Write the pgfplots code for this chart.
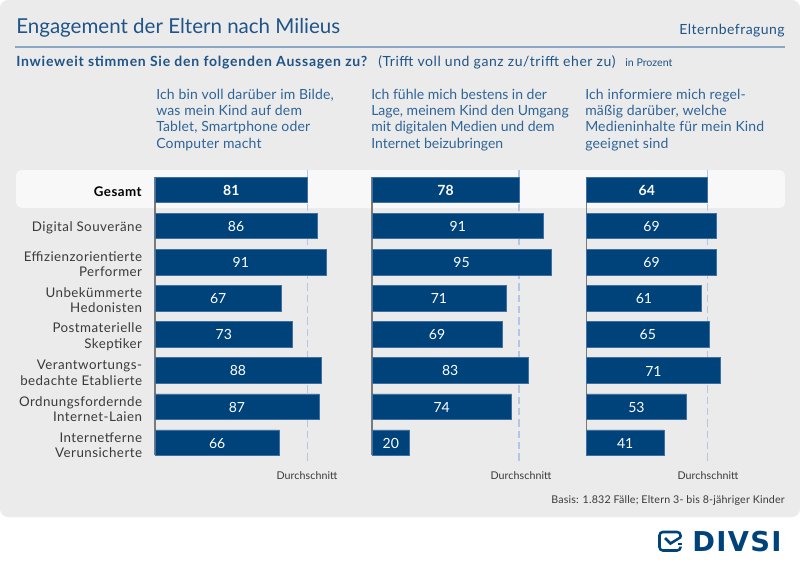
\documentclass[border=0pt]{standalone}
\usepackage{fontspec}
\setmainfont{Lato}
\newfontfamily\logofont{DejaVu Sans}
\usepackage{pgfplots}
\usepackage{pgfplotstable}
\pgfplotsset{compat=1.18}
\definecolor{panel}{HTML}{EBEBEB}
\definecolor{band}{HTML}{F8F8F8}
\definecolor{navy}{HTML}{00427A}
\definecolor{navyedge}{HTML}{3F70A3}
\definecolor{head}{HTML}{1F5488}
\definecolor{headlight}{HTML}{2F6498}
\definecolor{rule}{HTML}{89A6C4}
\definecolor{avg}{HTML}{B4C6E6}
\definecolor{base}{HTML}{7A7A7A}
\definecolor{txt}{HTML}{3A3A3A}

\pgfplotstableread{
y a b c
0 81 78 64
1 86 91 69
2 91 95 69
3 67 71 61
4 73 69 65
5 88 83 71
6 87 74 53
7 66 20 41
}\engagement

\pgfplotsset{panelaxis/.style={
  scale only axis, width=141.375pt, height=219.75pt,
  xmin=0, xmax=100, ymin=-0.5465, ymax=7.561, y dir=reverse,
  axis line style={draw=none}, major tick length=0pt, xtick=\empty, ytick=\empty,
  clip=false, anchor=north west,
},
vals/.style={only marks, mark=none, nodes near coords, point meta=explicit symbolic,
  nodes near coords style={anchor=center, inner sep=0pt, yshift=-0.4pt, white, font=\fontsize{10.5}{12}\selectfont #1}}}
% one panel: average line, baseline, bars, centred values
\newcommand{\panelplots}[2]{
  \addplot[avg, line width=0.9pt, dash pattern=on 5.5pt off 3pt] coordinates {(#2,-0.5465) (#2,7.561)};
  \addplot[base, line width=1pt] coordinates {(0,-0.353) (0,7.353)};
  \addplot[xbar, bar shift=0pt, bar width=19.1pt, fill=navy, draw=navyedge, line width=0.35pt]
    table[x=#1, y=y] {\engagement};
  \addplot[vals=\bfseries, skip coords between index={1}{8}]
    table[x expr=\thisrow{#1}/2, y=y, meta=#1] {\engagement};
  \addplot[vals=, skip coords between index={0}{1}]
    table[x expr=\thisrow{#1}/2, y=y, meta=#1] {\engagement};
}

\begin{document}
\begin{tikzpicture}[x=0.75pt, y=-0.75pt]
\useasboundingbox (0,0) rectangle (800,567);
\fill[panel, rounded corners=6pt] (0,0) rectangle (800,517);
\fill[band, rounded corners=4pt] (16,170) rectangle (785,208);
\draw[rule, line width=1.1pt] (15,47) -- (785,47);

\node[anchor=base west, inner sep=0pt, text=head, font=\fontsize{15.4}{18}\selectfont] at (16,34) {Engagement der Eltern nach Milieus};
\node[anchor=base east, inner sep=0pt, text=head, font=\fontsize{10.5}{12}\selectfont\addfontfeature{LetterSpace=3.3}] at (785,35) {Elternbefragung};
\node[anchor=base west, inner sep=0pt, text=head, font=\fontsize{10.5}{12}\selectfont\bfseries\addfontfeature{LetterSpace=5.5}] at (16,67) {Inwieweit stimmen Sie den folgenden Aussagen zu?};
\node[anchor=base west, inner sep=0pt, text=head, font=\fontsize{10.5}{12}\selectfont\addfontfeature{LetterSpace=4}] at (378,67) {(Trifft voll und ganz zu/trifft eher zu)};
\node[anchor=base west, inner sep=0pt, text=head, font=\fontsize{8}{10}\selectfont] at (625,67) {in Prozent};

\node[anchor=north west, inner sep=0pt, align=left, text=headlight, font=\fontsize{10.5}{12.3}\selectfont\addfontfeature{LetterSpace=1.2}] at (156,88.5) {Ich bin voll darüber im Bilde,\\was mein Kind auf dem\\Tablet, Smartphone oder\\Computer macht};
\node[anchor=north west, inner sep=0pt, align=left, text=headlight, font=\fontsize{10.5}{12.3}\selectfont] at (371,88.5) {Ich fühle mich bestens in der\\Lage, meinem Kind den Umgang\\mit digitalen Medien und dem\\Internet beizubringen};
\node[anchor=north west, inner sep=0pt, align=left, text=headlight, font=\fontsize{10.5}{12.3}\selectfont\addfontfeature{LetterSpace=1.2}] at (585,88.5) {Ich informiere mich regel-\\mäßig darüber, welche\\Medieninhalte für mein Kind\\geeignet sind};

\begin{axis}[panelaxis, at={(116.25pt,-127.5pt)},
  ytick={0,...,7},
  yticklabels={\raisebox{1.2pt}{\textcolor{black}{\textbf{Gesamt}}}, \raisebox{-1.5pt}{Digital Souveräne}, {Effizienzorientierte\\Performer}, {Unbekümmerte\\Hedonisten},
    {Postmaterielle\\Skeptiker}, {Verantwortungs-\\bedachte Etablierte}, {Ordnungsfordernde\\Internet-Laien}, {Internetferne\\Verunsicherte}},
  yticklabel style={align=right, inner sep=0pt, xshift=-9.5pt, yshift=-1.7pt, text=txt, font=\fontsize{10}{11.5}\selectfont\addfontfeature{LetterSpace=3.5}}]
\panelplots{a}{81}
\end{axis}
\begin{axis}[panelaxis, at={(279pt,-127.5pt)}]
\panelplots{b}{78}
\end{axis}
\begin{axis}[panelaxis, at={(439.875pt,-127.5pt)}]
\panelplots{c}{64}
\end{axis}

\node[anchor=base, inner sep=0pt, text=txt, font=\fontsize{8}{10}\selectfont\addfontfeature{LetterSpace=0.8}] at (307,479) {Durchschnitt};
\node[anchor=base, inner sep=0pt, text=txt, font=\fontsize{8}{10}\selectfont\addfontfeature{LetterSpace=0.8}] at (521,479) {Durchschnitt};
\node[anchor=base, inner sep=0pt, text=txt, font=\fontsize{8}{10}\selectfont\addfontfeature{LetterSpace=0.8}] at (708,479) {Durchschnitt};
\node[anchor=base east, inner sep=0pt, text=txt, font=\fontsize{8}{10}\selectfont\addfontfeature{LetterSpace=1.7}] at (785,503) {Basis: 1.832 Fälle; Eltern 3- bis 8-jähriger Kinder};

% logo
\draw[navy, line width=1.9pt, rounded corners=2.5pt] (680.5,537) -- (680.5,532) -- (659.5,532) -- (659.5,550.5) -- (680.5,550.5) -- (680.5,546.5);
\draw[navy, line width=1.9pt] (665,538) -- (670.5,543.5) -- (681,537);
\fill[navy] (678,542.5) rectangle (681.5,545);
\node[anchor=base west, inner sep=0pt, text=navy, font=\fontsize{20.5}{24}\logofont\bfseries\addfontfeature{LetterSpace=5}] at (692,551.5) {DIVSI};
\end{tikzpicture}
\end{document}
